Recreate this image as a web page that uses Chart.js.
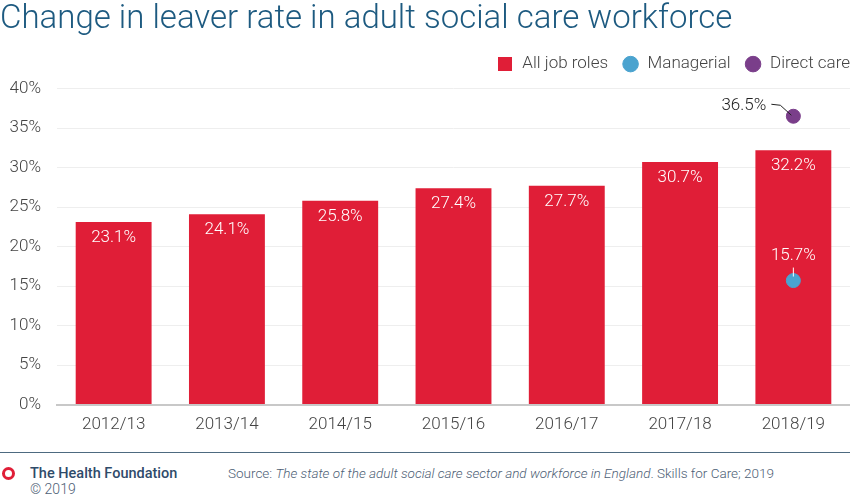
<!DOCTYPE html>
<html>
<head>
<meta charset="utf-8">
<script src="https://cdn.jsdelivr.net/npm/chart.js@4"></script>
<style>
  body { margin: 0; background: #fff; font-family: Roboto, "Noto Sans", sans-serif; }
  #wrap { position: relative; width: 850px; height: 503px; overflow: hidden; }
  #chartBox { position: absolute; left: 0; top: 0; width: 850px; height: 437px; }
  #rule { position: absolute; left: 0; top: 452px; width: 850px; height: 1px; background: #4d6a80; }
  #logo { position: absolute; left: 2px; top: 467px; width: 7px; height: 7px; border: 3px solid #e01e37; border-radius: 50%; }
  #org { position: absolute; left: 30px; top: 465px; font-size: 14.5px; font-weight: 500; color: #2f4b6a; }
  #copy { position: absolute; left: 30px; top: 481px; font-size: 14px; font-weight: 300; color: #4d6075; }
  #src { position: absolute; left: 228px; top: 465px; font-size: 13.5px; font-weight: 300; color: #4d6075; }
</style>
</head>
<body>
<div id="wrap">
  <div id="chartBox"><canvas id="myChart"></canvas></div>
  <div id="rule"></div>
  <div id="logo"></div>
  <div id="org">The Health Foundation</div>
  <div id="copy">© 2019</div>
  <div id="src">Source: <i>The state of the adult social care sector and workforce in England</i>. Skills for Care; 2019</div>
</div>
<script>
const years = ["2012/13", "2013/14", "2014/15", "2015/16", "2016/17", "2017/18", "2018/19"];
const allRoles = [23.1, 24.1, 25.8, 27.4, 27.7, 30.7, 32.2];
const managerial = [null, null, null, null, null, null, 15.7];
const directCare = [null, null, null, null, null, null, 36.5];

// square legend marker for the bars
const squareMark = document.createElement('canvas');
squareMark.width = 14;
squareMark.height = 14;
const sq = squareMark.getContext('2d');
sq.fillStyle = '#e01e37';
sq.fillRect(0, 0, 14, 14);

// nudge the legend up and flush to the right edge
const legendShift = {
    id: 'legendShift',
    beforeDraw(chart) {
        chart.legend.top -= 6;
        chart.legend.bottom -= 6;
        chart.legend.right += 14;
    }
};

// draws the value labels (no datalabels plugin available offline)
const valueLabels = {
    id: 'valueLabels',
    afterDatasetsDraw(chart) {
        const ctx = chart.ctx;
        ctx.save();
        ctx.font = '300 17px Roboto, sans-serif';
        ctx.textAlign = 'center';
        ctx.textBaseline = 'middle';

        chart.getDatasetMeta(0).data.forEach((bar, i) => {
            ctx.fillStyle = '#fff';
            ctx.fillText(allRoles[i].toFixed(1) + '%', bar.x, bar.y + 16);
        });

        chart.getDatasetMeta(1).data.forEach((pt, i) => {
            if (managerial[i] == null) return;
            ctx.fillStyle = '#fff';
            ctx.fillText(managerial[i].toFixed(1) + '%', pt.x, pt.y - 25);
            ctx.strokeStyle = '#fff';
            ctx.lineWidth = 1;
            ctx.beginPath();
            ctx.moveTo(pt.x, pt.y - 13);
            ctx.lineTo(pt.x, pt.y - 4);
            ctx.stroke();
        });

        chart.getDatasetMeta(2).data.forEach((pt, i) => {
            if (directCare[i] == null) return;
            ctx.fillStyle = '#222';
            ctx.textAlign = 'right';
            ctx.fillText(directCare[i].toFixed(1) + '%', pt.x - 27, pt.y - 11);
            ctx.strokeStyle = '#222';
            ctx.lineWidth = 1;
            ctx.beginPath();
            ctx.moveTo(pt.x - 22, pt.y - 12);
            ctx.lineTo(pt.x - 13, pt.y - 11);
            ctx.lineTo(pt.x - 2, pt.y - 1);
            ctx.stroke();
        });
        ctx.restore();
    }
};

new Chart("myChart", {
    type: "bar",
    data: {
        labels: years,
        datasets: [{
            label: "All job roles",
            data: allRoles,
            backgroundColor: "#e01e37",
            barPercentage: 0.67,
            categoryPercentage: 1.0,
            pointStyle: squareMark,
            order: 3
        }, {
            type: "line",
            label: "Managerial",
            data: managerial,
            showLine: false,
            pointRadius: 7,
            pointHoverRadius: 7,
            pointStyle: "circle",
            backgroundColor: "#4ba3cf",
            borderColor: "#4ba3cf",
            order: 1
        }, {
            type: "line",
            label: "Direct care",
            data: directCare,
            showLine: false,
            pointRadius: 7,
            pointHoverRadius: 7,
            pointStyle: "circle",
            backgroundColor: "#7a3e8a",
            borderColor: "#7a3e8a",
            order: 2
        }]
    },
    options: {
        responsive: true,
        maintainAspectRatio: false,
        animation: false,
        layout: { autoPadding: false, padding: 0 },
        plugins: {
            title: {
                display: true,
                text: "Change in leaver rate in adult social care workforce",
                align: "start",
                color: "#1d5a80",
                font: { family: "Roboto", size: 33, weight: 300 },
                padding: { top: 0, bottom: 8 }
            },
            legend: {
                display: true,
                position: "top",
                align: "end",
                labels: {
                    usePointStyle: true,
                    boxHeight: 11,
                    padding: 14,
                    color: "#444",
                    font: { family: "Roboto", size: 17, weight: 300 },
                    sort: (a, b) => a.datasetIndex - b.datasetIndex
                }
            },
            tooltip: { enabled: false }
        },
        scales: {
            x: {
                grid: { display: false },
                border: { color: "#c8c8c8", width: 2 },
                ticks: {
                    color: "#444",
                    padding: 2,
                    font: { family: "Roboto", size: 17, weight: 300 }
                }
            },
            y: {
                min: 0,
                max: 40,
                afterFit: function(axis) { axis.width = 57; },
                grid: { color: "#eeeeee", drawTicks: false },
                border: { display: false },
                ticks: {
                    stepSize: 5,
                    padding: 16,
                    color: "#444",
                    font: { family: "Roboto", size: 17, weight: 300 },
                    callback: function(value) { return value + '%'; }
                }
            }
        }
    },
    plugins: [legendShift, valueLabels]
});
</script>
</body>
</html>
